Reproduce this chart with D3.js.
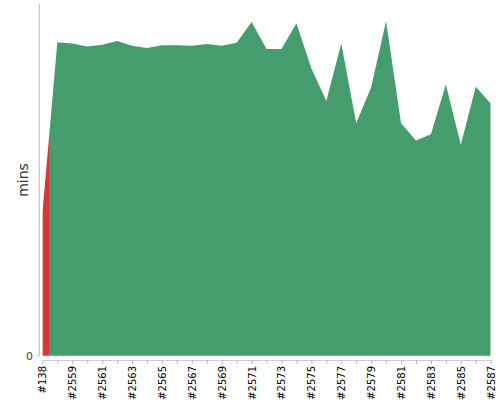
<!DOCTYPE html>
<html>
<head>
<meta charset="utf-8">
<script src="https://cdn.jsdelivr.net/npm/d3@7"></script>
<style>
  body { margin: 0; background: #fff; }
  svg { font-family: 'DejaVu Sans', sans-serif; }
</style>
</head>
<body>
<div class="chart"></div>
<script>
const builds = ['#138', '#2558', '#2559', '#2560', '#2561', '#2562', '#2563', '#2564',
  '#2565', '#2566', '#2567', '#2568', '#2569', '#2570', '#2571', '#2572', '#2573',
  '#2574', '#2575', '#2576', '#2577', '#2578', '#2579', '#2580', '#2581', '#2582',
  '#2583', '#2584', '#2585', '#2586', '#2587'];

// build duration in minutes
const durations = [4.06, 8.91, 8.88, 8.79, 8.84, 8.95, 8.81, 8.75, 8.83, 8.83, 8.81,
  8.86, 8.81, 8.90, 9.49, 8.72, 8.72, 9.45, 8.17, 7.24, 8.88, 6.61, 7.63, 9.52,
  6.61, 6.12, 6.30, 7.71, 6.00, 7.65, 7.17];

const statuses = ['FAILURE', 'SUCCESS', 'SUCCESS', 'SUCCESS', 'SUCCESS', 'SUCCESS',
  'SUCCESS', 'SUCCESS', 'SUCCESS', 'SUCCESS', 'SUCCESS', 'SUCCESS', 'SUCCESS',
  'SUCCESS', 'SUCCESS', 'SUCCESS', 'SUCCESS', 'SUCCESS', 'SUCCESS', 'SUCCESS',
  'SUCCESS', 'SUCCESS', 'SUCCESS', 'SUCCESS', 'SUCCESS', 'SUCCESS', 'SUCCESS',
  'SUCCESS', 'SUCCESS', 'SUCCESS', 'SUCCESS'];

const yMax = 10;

const colors = {SUCCESS: '#459d6d', FAILURE: '#d8373a'};

const svg = d3.select('.chart')
  .append('svg')
  .attr('width', 500)
  .attr('height', 400);

const x = d3.scalePoint().domain(builds).range([42.4, 490.7]);
const y = d3.scaleLinear().domain([0, yMax]).range([355.7, 4]);

const data = builds.map((b, i) => ({build: b, value: durations[i], status: statuses[i]}));

// each build owns the half intervals around its point
const mids = data.map((d, i) => {
  const left = i === 0 ? x(d.build) : (x(data[i - 1].build) + x(d.build)) / 2;
  const right = i === data.length - 1 ? x(d.build) : (x(d.build) + x(data[i + 1].build)) / 2;
  return {left, right, status: d.status};
});

const defs = svg.append('defs');
Object.keys(colors).forEach(st => {
  defs.append('clipPath')
    .attr('id', `clip-${st}`)
    .selectAll('rect')
    .data(mids.filter(m => m.status === st))
    .enter()
    .append('rect')
    .attr('x', m => m.left)
    .attr('width', m => m.right - m.left)
    .attr('y', 0)
    .attr('height', 400);
});

const area = d3.area()
  .x(d => x(d.build))
  .y0(y(0))
  .y1(d => y(d.value));

Object.keys(colors).forEach(st => {
  svg.append('path')
    .datum(data)
    .attr('d', area)
    .attr('fill', colors[st])
    .attr('clip-path', `url(#clip-${st})`);
});

// y axis
svg.append('line')
  .attr('x1', 39.3).attr('x2', 39.3)
  .attr('y1', y(yMax)).attr('y2', y(0))
  .attr('stroke', '#bbb');
svg.append('line')
  .attr('x1', 37).attr('x2', 39.3)
  .attr('y1', y(0)).attr('y2', y(0))
  .attr('stroke', '#bbb');
svg.append('text')
  .attr('x', 33)
  .attr('y', y(0))
  .attr('dy', '0.35em')
  .attr('text-anchor', 'end')
  .style('font-size', '11px')
  .style('fill', '#444')
  .text('0');

svg.append('text')
  .attr('transform', 'translate(18,180) rotate(-90)')
  .attr('dy', '0.7em')
  .attr('text-anchor', 'middle')
  .style('font-size', '14px')
  .style('fill', '#333')
  .text('mins');

// x axis
const xAxis = svg.append('g')
  .attr('transform', 'translate(0,360)')
  .call(d3.axisBottom(x).tickSize(4).tickSizeOuter(0));

xAxis.select('.domain').attr('stroke', '#ccc');
xAxis.selectAll('.tick line').attr('stroke', '#bbb');
xAxis.selectAll('.tick text')
  .attr('transform', 'rotate(-90)')
  .attr('x', -6)
  .attr('y', 0)
  .attr('dy', '0.35em')
  .attr('text-anchor', 'end')
  .style('font-family', 'DejaVu Sans, sans-serif')
  .style('font-size', '10px')
  .style('fill', '#000')
  .text((d, i) => (i % 2 === 0 ? d : ''));
</script>
</body>
</html>
